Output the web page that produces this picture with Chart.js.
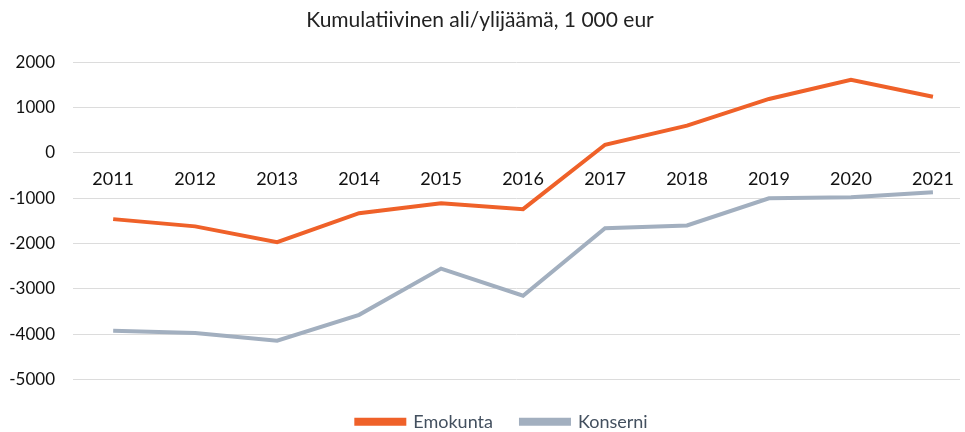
<!DOCTYPE html>
<html>
<head>
<meta charset="utf-8">
<script src="https://cdn.jsdelivr.net/npm/chart.js@4"></script>
<style>
  html, body { margin: 0; padding: 0; background: #fff; }
  #wrap { width: 965px; height: 432px; }
</style>
</head>
<body>
<div id="wrap"><canvas id="chart"></canvas></div>
<script>
const years = ['2011', '2012', '2013', '2014', '2015', '2016', '2017', '2018', '2019', '2020', '2021'];
const emokunta = [-1460, -1620, -1970, -1330, -1110, -1240, 180, 600, 1190, 1610, 1240];
const konserni = [-3920, -3970, -4140, -3570, -2550, -3150, -1660, -1600, -1000, -980, -870];
const yTicks = [2000, 1000, 0, -1000, -2000, -3000, -4000, -5000];

const FONT = 'Lato, "Open Sans", sans-serif';

const toPoints = arr => arr.map((v, i) => ({ x: i, y: v }));

// nudge the legend after layout so it sits close under the plot
const legendShift = {
    id: 'legendShift',
    afterLayout(chart) {
        const lg = chart.legend;
        if (!lg) return;
        lg.top -= 19;
        lg.bottom -= 19;
        lg.left += 22;
        lg.right += 22;
    }
};

new Chart(document.getElementById('chart'), {
    type: 'line',
    data: {
        datasets: [
            { label: 'Emokunta', data: toPoints(emokunta), borderColor: '#ef6129', backgroundColor: '#ef6129', borderWidth: 4, pointRadius: 0, tension: 0 },
            { label: 'Konserni', data: toPoints(konserni), borderColor: '#a2afbf', backgroundColor: '#a2afbf', borderWidth: 4, pointRadius: 0, tension: 0 }
        ]
    },
    options: {
        responsive: true,
        maintainAspectRatio: false,
        animation: false,
        layout: { padding: { left: 0, right: 5, top: 0, bottom: -36 } },
        plugins: {
            title: {
                display: true,
                text: 'Kumulatiivinen ali/ylijäämä, 1 000 eur',
                color: '#222',
                font: { family: FONT, size: 21, weight: 'normal' },
                padding: { top: 8, bottom: 29 }
            },
            legend: {
                position: 'bottom',
                labels: {
                    color: '#43505f',
                    font: { family: FONT, size: 18 },
                    boxWidth: 48,
                    boxHeight: 4,
                    padding: 28
                }
            },
            tooltip: { enabled: false }
        },
        scales: {
            x: {
                type: 'linear',
                position: { y: 0 },
                min: -0.49,
                max: 10.33,
                afterBuildTicks: s => { s.ticks = years.map((_, i) => ({ value: i })); },
                ticks: {
                    color: '#111',
                    font: { family: FONT, size: 18 },
                    padding: 7,
                    callback: v => years[v]
                },
                grid: { display: false },
                border: { display: false }
            },
            y: {
                min: -5532,
                max: 2000,
                afterBuildTicks: s => { s.ticks = yTicks.map(v => ({ value: v })); },
                afterFit: s => { s.width = 73; },
                ticks: {
                    color: '#111',
                    font: { family: FONT, size: 17 },
                    padding: 18,
                    callback: v => String(v)
                },
                grid: { color: '#dcdcdc', lineWidth: 1, drawTicks: false },
                border: { display: false }
            }
        }
    },
    plugins: [legendShift]
});
</script>
</body>
</html>
